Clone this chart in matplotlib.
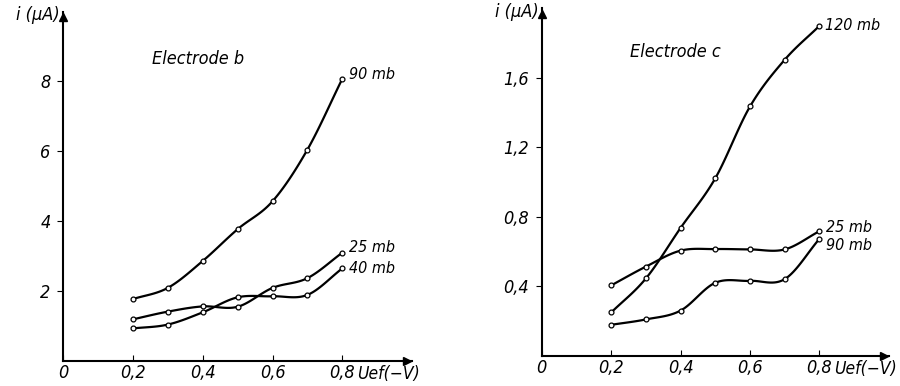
import numpy as np
import matplotlib
matplotlib.use("Agg")
import matplotlib.pyplot as plt

plt.rcParams['font.family'] = ['DejaVu Sans']
plt.rcParams['font.stretch'] = 'condensed'
plt.rcParams['font.style'] = 'italic'

# bias voltage Uef (-V)
voltage = [0.2, 0.3, 0.4, 0.5, 0.6, 0.7, 0.8]

# electrode b, current in uA
b_90mb = [1.77, 2.09, 2.86, 3.77, 4.57, 6.05, 8.08]
b_25mb = [1.19, 1.41, 1.56, 1.55, 2.09, 2.37, 3.10]
b_40mb = [0.93, 1.04, 1.39, 1.82, 1.85, 1.89, 2.65]

# electrode c, current in uA
c_120mb = [0.25, 0.446, 0.737, 1.023, 1.436, 1.705, 1.90]
c_25mb = [0.406, 0.514, 0.606, 0.615, 0.613, 0.613, 0.718]
c_90mb = [0.179, 0.21, 0.261, 0.421, 0.432, 0.442, 0.674]

x_ticks = [0, 0.2, 0.4, 0.6, 0.8]
x_ticklabels = ['0', '0,2', '0,4', '0,6', '0,8']
b_yticks = [2, 4, 6, 8]
b_yticklabels = ['2', '4', '6', '8']
c_yticks = [0.4, 0.8, 1.2, 1.6]
c_yticklabels = ['0,4', '0,8', '1,2', '1,6']


def smooth(x, y, n=20):
    # catmull-rom path through the measured points, only for drawing the line
    x = np.asarray(x, float)
    y = np.asarray(y, float)
    px = np.concatenate([[2 * x[0] - x[1]], x, [2 * x[-1] - x[-2]]])
    py = np.concatenate([[2 * y[0] - y[1]], y, [2 * y[-1] - y[-2]]])
    xs, ys = [], []
    t = np.linspace(0, 1, n, endpoint=False)
    for i in range(1, len(px) - 2):
        for p, out in ((px, xs), (py, ys)):
            p0, p1, p2, p3 = p[i - 1], p[i], p[i + 1], p[i + 2]
            out.extend(0.5 * (2 * p1 + (-p0 + p2) * t
                              + (2 * p0 - 5 * p1 + 4 * p2 - p3) * t ** 2
                              + (-p0 + 3 * p1 - 3 * p2 + p3) * t ** 3))
    xs.append(x[-1])
    ys.append(y[-1])
    return xs, ys


def draw_curve(ax, y, label, dx, dy):
    sx, sy = smooth(voltage, y)
    ax.plot(sx, sy, color='black', lw=1.6, zorder=2)
    ax.plot(voltage, y, 'o', ms=3.5, mfc='white', mec='black', mew=0.9, zorder=3)
    ax.annotate(label, (voltage[-1], y[-1]), xytext=(dx, dy),
                textcoords='offset points', fontsize=11.5, va='center', ha='left')


def setup_axes(ax, ymax, yticks, yticklabels):
    ax.set_xlim(0, 1.0)
    ax.set_ylim(0, ymax)
    for s in ('top', 'right'):
        ax.spines[s].set_visible(False)
    for s in ('left', 'bottom'):
        ax.spines[s].set_linewidth(1.5)
    ax.plot(0.985, 0, '>', color='black', ms=6, clip_on=False)
    ax.plot(0, ymax * 0.985, '^', color='black', ms=6, clip_on=False)
    ax.set_xticks(x_ticks)
    ax.set_xticklabels(x_ticklabels, fontsize=13)
    ax.set_yticks(yticks)
    ax.set_yticklabels(yticklabels, fontsize=13)
    ax.tick_params(axis='x', direction='in', length=4, pad=2)
    ax.tick_params(axis='y', direction='out', length=4, pad=5)
    ax.text(0.843, -0.012, 'Uef(\u2212V)', transform=ax.get_xaxis_transform(),
            fontsize=12.5, va='top', ha='left')
    ax.text(-0.01, 0.99, 'i (\u03bcA)', transform=ax.transAxes,
            fontsize=13, va='center', ha='right')


fig = plt.figure(figsize=(9, 3.86), dpi=100)
ax1 = fig.add_axes([0.07, 0.065, 0.388, 0.905])
ax2 = fig.add_axes([0.602, 0.078, 0.3856, 0.9])

setup_axes(ax1, 10, b_yticks, b_yticklabels)
draw_curve(ax1, b_90mb, '90 mb', 5, 3)
draw_curve(ax1, b_25mb, '25 mb', 5, 4)
draw_curve(ax1, b_40mb, '40 mb', 5, 0)
ax1.text(0.255, 8.5, 'Electrode b', fontsize=13)

setup_axes(ax2, 2.0, c_yticks, c_yticklabels)
draw_curve(ax2, c_120mb, '120 mb', 4, 0)
draw_curve(ax2, c_25mb, '25 mb', 5, 3)
draw_curve(ax2, c_90mb, '90 mb', 5, -5)
ax2.text(0.255, 1.72, 'Electrode c', fontsize=13)

fig.savefig('out.png', dpi=100)
